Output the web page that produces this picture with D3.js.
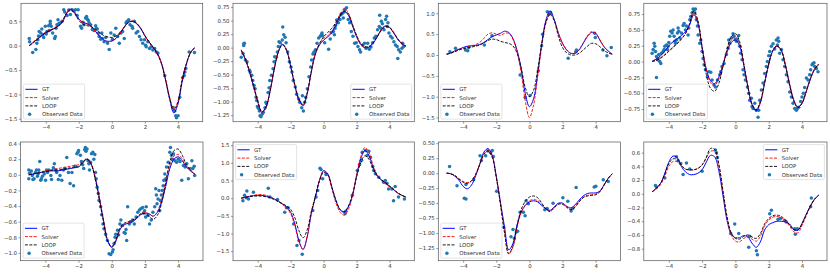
<!DOCTYPE html>
<html><head><meta charset="utf-8">
<script src="https://cdn.jsdelivr.net/npm/d3@7"></script>
<style>body{margin:0;background:#fff}svg{display:block}text{font-family:"DejaVu Sans",sans-serif}</style>
</head><body><svg id="c" width="830" height="274"></svg>
<script>
const xGrid = [-5,-4.75,-4.5,-4.25,-4,-3.75,-3.5,-3.25,-3,-2.75,-2.5,-2.25,-2,-1.75,-1.5,-1.25,-1,-0.75,-0.5,-0.25,0,0.25,0.5,0.75,1,1.25,1.5,1.75,2,2.25,2.5,2.75,3,3.25,3.5,3.75,4,4.25,4.5,4.75,5];
const xTicks = [-4,-2,0,2,4];
const seriesNames = ["GT","Solver","LOOP","Observed Data"];

// Panel 1
const gt1 = [0.0,0.07,0.14,0.21,0.27,0.31,0.35,0.4,0.48,0.65,0.75,0.68,0.55,0.48,0.45,0.4,0.3,0.2,0.12,0.09,0.1,0.15,0.25,0.38,0.48,0.5,0.45,0.35,0.2,0.08,-0.03,-0.15,-0.35,-0.7,-1.1,-1.38,-1.2,-0.75,-0.4,-0.15,-0.05];
const solver1 = [0.01,0.08,0.15,0.22,0.28,0.32,0.36,0.41,0.5,0.67,0.76,0.69,0.55,0.47,0.44,0.39,0.29,0.19,0.11,0.08,0.09,0.15,0.26,0.39,0.49,0.51,0.46,0.35,0.2,0.07,-0.04,-0.16,-0.36,-0.68,-1.06,-1.3,-1.14,-0.7,-0.38,-0.16,-0.04];
const loop1 = [0.0,0.06,0.13,0.2,0.27,0.31,0.35,0.4,0.5,0.66,0.74,0.66,0.52,0.44,0.41,0.39,0.34,0.27,0.21,0.18,0.17,0.2,0.27,0.38,0.47,0.5,0.46,0.36,0.21,0.08,-0.04,-0.17,-0.37,-0.7,-1.08,-1.32,-1.16,-0.72,-0.38,-0.15,-0.04];
const obs1 = [[-5,0.15],[-4.98,0.08],[-4.79,-0.14],[-4.6,-0.08],[-4.54,0.05],[-4.48,0.12],[-4.44,0.2],[-4.4,0.29],[-4.3,0.26],[-4.24,0.34],[-4.18,0.22],[-4.13,0.17],[-4.03,0.4],[-3.97,0.24],[-3.93,0.29],[-3.83,0.41],[-3.79,0.31],[-3.73,0.5],[-3.73,0.45],[-3.67,0.4],[-3.58,0.26],[-3.46,0.15],[-3.42,0.19],[-3.38,0.36],[-3.32,0.43],[-3.26,0.53],[-3.22,0.45],[-3.12,0.47],[-3.01,0.5],[-2.91,0.74],[-2.85,0.69],[-2.71,0.62],[-2.61,0.73],[-2.51,0.64],[-2.4,0.74],[-2.3,0.71],[-2.2,0.74],[-2.1,0.62],[-2.04,0.74],[-1.89,0.4],[-1.83,0.36],[-1.75,0.48],[-1.69,0.43],[-1.59,0.57],[-1.53,0.6],[-1.49,0.55],[-1.43,0.52],[-1.38,0.47],[-1.28,0.43],[-1.18,0.33],[-1.08,0.31],[-0.98,0.41],[-0.94,0.36],[-0.88,0.34],[-0.81,0.26],[-0.77,0.19],[-0.67,0.13],[-0.61,0.26],[-0.57,0.15],[-0.47,0.08],[-0.37,0.17],[-0.26,0.05],[-0.16,-0.08],[-0.06,0.26],[0.04,0.13],[0.14,0.22],[0.24,0.36],[0.35,0.19],[0.45,0.05],[0.55,0.26],[0.65,0.29],[0.75,0.15],[0.86,0.47],[0.92,0.5],[1.02,0.53],[1.1,0.43],[1.22,0.4],[1.26,0.36],[1.36,0.5],[1.47,0.26],[1.57,0.29],[1.67,0.19],[1.77,0.12],[1.87,0.05],[1.98,0.12],[2.04,0.01],[2.08,-0.02],[2.18,0.08],[2.28,-0.06],[2.38,-0.02],[2.48,-0.09],[2.59,-0.06],[2.69,-0.13],[2.79,-0.15],[3.2,-0.61],[3.71,-1.27],[3.81,-1.34],[3.87,-1.44],[3.91,-1.48],[4.01,-1.44],[4.11,-1.06],[4.28,-0.66],[4.38,-0.61],[4.42,-0.54],[4.48,-0.47],[4.68,-0.13],[5,-0.14]];

// Panel 2
const gt2 = [-0.06,-0.22,-0.45,-0.72,-1.0,-1.2,-1.1,-0.8,-0.4,-0.08,0.06,-0.05,-0.35,-0.7,-0.97,-1.07,-0.85,-0.45,-0.12,0.05,0.14,0.2,0.28,0.42,0.58,0.67,0.6,0.4,0.2,0.06,0.0,0.01,0.08,0.2,0.33,0.4,0.37,0.27,0.15,0.07,0.02];
const solver2 = [-0.05,-0.21,-0.44,-0.72,-1.0,-1.21,-1.12,-0.81,-0.4,-0.07,0.07,-0.04,-0.34,-0.7,-0.98,-1.08,-0.86,-0.45,-0.11,0.07,0.17,0.22,0.3,0.45,0.62,0.72,0.64,0.42,0.21,0.06,0.0,0.02,0.09,0.21,0.34,0.41,0.38,0.28,0.16,0.07,0.02];
const loop2 = [-0.04,-0.2,-0.43,-0.7,-0.98,-1.18,-1.1,-0.8,-0.4,-0.08,0.05,-0.05,-0.34,-0.68,-0.95,-1.05,-0.84,-0.44,-0.1,0.08,0.2,0.28,0.36,0.47,0.6,0.68,0.62,0.43,0.23,0.08,0.02,0.02,0.09,0.2,0.32,0.39,0.37,0.28,0.16,0.08,0.03];
const obs2 = [[-5,-0.18],[-4.89,-0.11],[-4.85,0.04],[-4.85,0.07],[-4.81,0.08],[-4.75,-0.23],[-4.65,-0.26],[-4.5,-0.42],[-4.46,-0.45],[-4.36,-0.51],[-4.3,-0.61],[-4.22,-0.7],[-4.16,-0.76],[-4.1,-0.92],[-4.06,-0.98],[-4.02,-1.09],[-3.96,-1.12],[-3.9,-1.17],[-3.86,-1.26],[-3.8,-1.28],[-3.74,-1.23],[-3.66,-1.2],[-3.56,-1.11],[-3.5,-1.01],[-3.47,-1.04],[-3.37,-0.83],[-3.31,-0.74],[-3.27,-0.61],[-3.17,-0.51],[-3.07,-0.39],[-3.01,-0.26],[-2.97,-0.17],[-2.87,-0.18],[-2.81,-0.08],[-2.75,0.02],[-2.71,0.11],[-2.63,0.09],[-2.51,0.14],[-2.48,0.38],[-2.42,0.24],[-2.34,0.19],[-2.28,0.09],[-2.18,-0.08],[-2.08,-0.26],[-1.98,-0.36],[-1.92,-0.45],[-1.84,-0.61],[-1.72,-0.73],[-1.64,-0.86],[-1.52,-0.95],[-1.45,-1.01],[-1.33,-1.11],[-1.29,-0.89],[-1.23,-1.17],[-1.15,-1.01],[-1.09,-0.92],[-0.99,-0.76],[-0.89,-0.54],[-0.79,-0.36],[-0.73,-0.23],[-0.65,-0.12],[-0.59,-0.08],[-0.5,-0.04],[-0.4,0.08],[-0.3,0.18],[-0.2,0.21],[-0.14,0.24],[-0.1,0.27],[-0.06,0.22],[0.06,0.09],[0.3,-0.03],[0.4,0.16],[0.46,0.28],[0.59,0.3],[0.65,0.24],[0.69,0.36],[0.73,0.41],[0.79,0.51],[0.89,0.46],[0.99,0.52],[1.05,0.61],[1.13,0.63],[1.19,0.55],[1.25,0.66],[1.29,0.71],[1.39,0.74],[1.49,0.52],[1.58,0.46],[1.68,0.3],[1.78,0.21],[1.88,0.08],[1.98,0.09],[2.08,0.02],[2.18,-0.04],[2.24,-0.08],[2.38,0.05],[2.48,0.08],[2.57,-0.01],[2.67,0.08],[2.77,-0.03],[2.87,0.01],[2.97,0.09],[3.07,0.18],[3.17,0.21],[3.27,0.33],[3.37,0.39],[3.4,0.6],[3.47,0.36],[3.5,0.49],[3.56,0.44],[3.66,0.33],[3.76,0.52],[3.82,0.58],[3.86,0.39],[3.9,0.46],[3.96,0.27],[4.06,0.21],[4.16,0.18],[4.26,0.11],[4.36,0.05],[4.46,0.02],[4.5,-0.2],[4.55,-0.04],[4.65,-0.08],[4.75,-0.01],[4.79,0.08],[4.85,0.02]];

// Panel 3
const gt3 = [0.02,0.05,0.1,0.14,0.18,0.21,0.22,0.23,0.25,0.3,0.37,0.44,0.48,0.52,0.57,0.54,0.4,0.12,-0.32,-0.92,-1.24,-1.05,-0.45,0.28,0.84,1.06,0.85,0.52,0.28,0.12,0.04,0.04,0.12,0.28,0.44,0.54,0.52,0.36,0.2,0.1,0.02];
const solver3 = [0.02,0.05,0.09,0.13,0.17,0.2,0.22,0.25,0.3,0.4,0.5,0.53,0.5,0.47,0.52,0.52,0.38,0.08,-0.42,-1.1,-1.5,-1.2,-0.52,0.22,0.78,1.0,0.84,0.53,0.28,0.12,0.04,0.05,0.13,0.29,0.46,0.56,0.52,0.37,0.2,0.09,0.02];
const loop3 = [0.02,0.04,0.08,0.12,0.15,0.17,0.19,0.21,0.24,0.29,0.35,0.38,0.37,0.33,0.3,0.28,0.22,0.05,-0.3,-0.78,-1.0,-0.85,-0.35,0.28,0.78,0.98,0.82,0.45,0.18,0.05,0.0,0.0,0.04,0.12,0.21,0.28,0.27,0.2,0.11,0.05,0.02];
const obs3 = [[-4.8,0.08],[-4.46,0.16],[-3.86,0.12],[-3.72,0.1],[-3.66,0.18],[-2.72,0.24],[-2.26,0.46],[-0.56,-0.48],[-0.26,-1.02],[0.04,-0.97],[0.54,-0.38],[0.74,0.22],[0.8,0.5],[1.08,1.04],[1.2,0.98],[1.28,1.02],[2.34,-0.08],[2.8,0.08],[2.84,0.12],[3.94,0.52],[3.98,0.42],[4.44,0.12],[4.68,-0.02],[4.94,0.18]];

// Panel 4
const gt4 = [0.01,0.04,0.09,0.16,0.25,0.31,0.36,0.41,0.47,0.58,0.74,0.6,0.22,-0.12,-0.3,-0.35,-0.25,-0.05,0.15,0.3,0.34,0.25,-0.05,-0.4,-0.68,-0.78,-0.65,-0.35,-0.05,0.17,0.24,0.18,-0.05,-0.35,-0.6,-0.72,-0.66,-0.48,-0.28,-0.13,-0.05];
const solver4 = [0.0,0.02,0.06,0.11,0.17,0.23,0.29,0.36,0.44,0.58,0.76,0.62,0.24,-0.12,-0.33,-0.38,-0.27,-0.05,0.17,0.33,0.39,0.28,-0.04,-0.4,-0.68,-0.76,-0.64,-0.34,-0.04,0.17,0.24,0.18,-0.05,-0.36,-0.61,-0.72,-0.65,-0.47,-0.27,-0.12,-0.04];
const loop4 = [0.0,0.02,0.05,0.1,0.16,0.22,0.28,0.35,0.44,0.6,0.8,0.65,0.22,-0.2,-0.42,-0.47,-0.35,-0.08,0.2,0.39,0.44,0.32,-0.03,-0.4,-0.68,-0.76,-0.63,-0.33,-0.03,0.18,0.25,0.18,-0.06,-0.37,-0.62,-0.73,-0.66,-0.47,-0.27,-0.12,-0.04];
const obs4 = [[-5,0.13],[-4.94,0.19],[-4.88,0.29],[-4.84,0.24],[-4.8,0.16],[-4.74,0.08],[-4.68,0.03],[-4.64,0.05],[-4.74,-0.25],[-4.6,0.11],[-4.54,0.0],[-4.48,-0.03],[-4.44,0.13],[-4.34,0.16],[-4.28,0.19],[-4.24,0.24],[-4.14,0.26],[-4.08,0.19],[-4.04,0.24],[-4.0,0.3],[-3.94,0.4],[-3.88,0.48],[-3.8,0.45],[-3.74,0.5],[-3.68,0.4],[-3.64,0.32],[-3.6,0.29],[-3.54,0.34],[-3.48,0.45],[-3.44,0.53],[-3.4,0.48],[-3.34,0.37],[-3.24,0.45],[-3.14,0.57],[-3.08,0.6],[-3.0,0.5],[-2.94,0.56],[-2.84,0.42],[-2.8,0.53],[-2.74,0.66],[-2.68,0.71],[-2.6,0.77],[-2.54,0.83],[-2.48,0.82],[-2.44,0.77],[-2.4,0.83],[-2.34,0.66],[-2.28,0.56],[-2.24,0.42],[-2.14,0.29],[-2.08,0.34],[-2.0,0.16],[-1.94,0.05],[-1.88,-0.05],[-1.8,-0.13],[-1.68,-0.24],[-1.6,-0.16],[-1.48,-0.17],[-1.4,-0.29],[-1.28,-0.37],[-1.2,-0.4],[-1.08,-0.29],[-0.94,-0.21],[-0.88,-0.16],[-0.8,-0.08],[-0.68,-0.03],[-0.54,0.11],[-0.44,0.21],[-0.4,0.34],[-0.34,0.29],[-0.24,0.37],[-0.14,0.44],[-0.08,0.4],[0.0,0.35],[0.06,0.32],[0.12,0.34],[0.2,0.41],[0.26,0.24],[0.32,0.13],[0.4,0.03],[0.46,-0.13],[0.52,-0.21],[0.6,-0.29],[0.72,-0.4],[0.8,-0.5],[0.86,-0.61],[0.96,-0.58],[1.0,-0.71],[1.06,-0.74],[1.16,-0.66],[1.26,-0.77],[1.36,-0.88],[1.4,-0.77],[1.46,-0.61],[1.56,-0.45],[1.66,-0.34],[1.76,-0.19],[1.86,-0.08],[1.92,0.0],[2.0,0.09],[2.06,0.16],[2.16,0.24],[2.26,0.28],[2.36,0.2],[2.46,0.34],[2.52,0.26],[2.56,0.37],[2.6,0.32],[2.66,0.13],[2.76,0.19],[2.86,0.03],[2.96,-0.08],[3.06,-0.21],[3.16,-0.32],[3.26,-0.48],[3.36,-0.56],[3.46,-0.66],[3.56,-0.74],[3.66,-0.77],[3.72,-0.74],[3.8,-0.72],[3.92,-0.63],[4.0,-0.56],[4.08,-0.5],[4.16,-0.41],[4.26,-0.26],[4.36,-0.29],[4.46,-0.21],[4.52,-0.13],[4.6,-0.05],[4.66,-0.03],[4.72,-0.02],[4.76,-0.08],[4.86,-0.11],[4.96,-0.16]];

// Panel 5
const gt5 = [0.0,0.01,0.02,0.03,0.04,0.05,0.05,0.05,0.06,0.07,0.08,0.09,0.1,0.15,0.2,0.14,-0.03,-0.29,-0.58,-0.84,-0.93,-0.85,-0.7,-0.64,-0.62,-0.6,-0.56,-0.51,-0.49,-0.5,-0.53,-0.48,-0.35,-0.15,0.08,0.2,0.23,0.18,0.1,0.05,0.01];
const solver5 = [0.0,0.01,0.03,0.04,0.05,0.06,0.07,0.08,0.09,0.1,0.11,0.12,0.13,0.17,0.21,0.15,-0.04,-0.3,-0.58,-0.84,-0.92,-0.84,-0.7,-0.63,-0.61,-0.59,-0.55,-0.5,-0.48,-0.5,-0.53,-0.47,-0.32,-0.1,0.12,0.24,0.26,0.2,0.11,0.05,0.01];
const loop5 = [0.0,0.01,0.02,0.03,0.04,0.05,0.06,0.06,0.07,0.08,0.09,0.1,0.11,0.16,0.2,0.14,-0.05,-0.32,-0.6,-0.85,-0.92,-0.83,-0.68,-0.62,-0.6,-0.58,-0.55,-0.5,-0.5,-0.53,-0.57,-0.52,-0.37,-0.1,0.16,0.31,0.33,0.25,0.13,0.06,0.01];
const obs5 = [[-5,0.06],[-5,-0.05],[-4.95,0.02],[-4.85,0.05],[-4.79,-0.01],[-4.75,-0.06],[-4.68,-0.05],[-4.6,0.03],[-4.54,0.06],[-4.48,-0.02],[-4.44,0.01],[-4.4,0.06],[-4.34,0.17],[-4.28,-0.07],[-4.24,-0.05],[-4.18,-0.02],[-4.07,0.01],[-3.99,-0.07],[-3.93,0.06],[-3.87,0.03],[-3.79,0.06],[-3.67,-0.01],[-3.63,-0.06],[-3.52,0.09],[-3.46,0.14],[-3.38,0.06],[-3.32,0.03],[-3.22,-0.06],[-3.12,-0.01],[-3.01,-0.07],[-2.91,0.06],[-2.81,0.08],[-2.71,0.22],[-2.61,0.03],[-2.51,-0.11],[-2.4,0.03],[-2.3,-0.14],[-2.2,0.11],[-2.1,0.27],[-2.04,0.29],[-2.0,0.31],[-1.89,0.25],[-1.83,0.17],[-1.75,0.13],[-1.69,0.08],[-1.63,0.32],[-1.59,0.35],[-1.55,0.3],[-1.49,0.33],[-1.43,0.18],[-1.38,0.14],[-1.34,0.06],[-1.28,0.16],[-1.22,0.27],[-1.14,0.29],[-1.08,0.2],[-1.02,0.26],[-0.98,0.03],[-0.94,-0.05],[-0.88,-0.16],[-0.81,-0.24],[-0.77,-0.33],[-0.67,-0.41],[-0.61,-0.51],[-0.53,-0.63],[-0.47,-0.69],[-0.37,-0.76],[-0.26,-0.84],[-0.16,-1.01],[-0.06,-1.02],[0.04,-0.99],[0.08,-0.96],[0.14,-0.88],[0.2,-0.8],[0.24,-0.76],[0.35,-0.71],[0.41,-0.77],[0.49,-0.63],[0.55,-0.58],[0.65,-0.65],[0.75,-0.74],[0.81,-0.75],[0.86,-0.7],[0.9,-0.84],[0.96,-0.41],[1.06,-0.63],[1.16,-0.6],[1.26,-0.58],[1.36,-0.63],[1.47,-0.54],[1.57,-0.48],[1.67,-0.45],[1.77,-0.43],[1.87,-0.42],[1.91,-0.49],[1.98,-0.46],[2.04,-0.54],[2.08,-0.41],[2.18,-0.52],[2.28,-0.63],[2.38,-0.58],[2.48,-0.48],[2.59,-0.41],[2.65,-0.18],[2.69,-0.26],[2.73,-0.37],[2.79,-0.31],[2.85,-0.2],[2.89,-0.46],[2.93,-0.33],[2.99,-0.26],[3.05,-0.2],[3.1,-0.14],[3.14,-0.07],[3.2,0.01],[3.26,-0.05],[3.3,0.1],[3.4,0.16],[3.5,0.29],[3.54,0.35],[3.6,0.25],[3.67,0.2],[3.71,0.27],[3.81,0.18],[3.91,0.16],[4.01,0.2],[4.11,0.17],[4.22,-0.07],[4.32,0.12],[4.42,0.1],[4.52,0.14],[4.62,-0.05],[4.73,0.08],[4.83,0.18],[4.89,0.08],[4.97,0.11],[5,-0.01]];

// Panel 6
const gt6 = [0.0,0.03,0.05,0.07,0.08,0.08,0.06,0.03,-0.02,-0.08,-0.16,-0.25,-0.4,-0.73,-1.2,-1.45,-1.1,-0.44,0.03,0.5,0.78,0.69,0.31,-0.07,-0.33,-0.4,-0.25,0.08,0.64,1.11,1.35,1.21,0.88,0.64,0.52,0.43,0.33,0.24,0.14,0.08,0.03];
const solver6 = [0.0,0.03,0.06,0.08,0.1,0.1,0.08,0.04,-0.02,-0.09,-0.18,-0.28,-0.44,-0.78,-1.24,-1.45,-1.08,-0.42,0.06,0.52,0.76,0.66,0.26,-0.14,-0.4,-0.48,-0.32,0.06,0.66,1.18,1.43,1.3,0.92,0.64,0.5,0.41,0.32,0.23,0.14,0.08,0.03];
const loop6 = [0.0,0.02,0.04,0.06,0.06,0.06,0.04,0.01,-0.04,-0.1,-0.16,-0.22,-0.32,-0.55,-0.92,-1.12,-0.9,-0.38,0.05,0.5,0.73,0.66,0.3,-0.07,-0.32,-0.38,-0.22,0.1,0.6,1.0,1.2,1.1,0.83,0.63,0.52,0.44,0.35,0.25,0.15,0.08,0.03];
const obs6 = [[-4.9,-0.07],[-4.8,0.08],[-4.7,0.01],[-4.66,0.2],[-4.56,-0.02],[-4.26,0.17],[-3.36,0.28],[-3.26,0.03],[-2.8,-0.04],[-2.36,-0.4],[-2.26,-0.27],[-2.16,-0.27],[-1.82,-0.73],[-1.62,-1.34],[-1.5,-1.2],[-1.3,-1.59],[-0.66,-0.35],[-0.46,0.03],[-0.36,0.22],[-0.22,0.85],[-0.16,0.81],[-0.06,0.55],[0.14,0.67],[1.3,-0.44],[1.34,-0.37],[1.74,0.08],[2.04,0.78],[2.18,0.95],[2.3,1.07],[2.34,1.3],[2.54,1.35],[2.64,1.21],[2.74,1.33],[2.84,1.16],[2.98,0.9],[3.04,0.78],[3.14,0.69],[3.34,0.59],[3.64,0.45],[3.74,0.5],[3.84,0.42],[3.94,0.26],[4.14,0.26],[4.24,-0.07],[4.34,0.33],[4.54,0.03],[4.9,-0.02]];

// Panel 7
const gt7 = [0.0,-0.01,-0.05,-0.12,-0.22,-0.26,-0.2,-0.05,0.15,0.35,0.41,0.3,-0.05,-0.48,-0.9,-1.28,-1.18,-0.87,-0.65,-0.54,-0.48,-0.46,-0.48,-0.54,-0.59,-0.62,-0.56,-0.5,-0.5,-0.55,-0.58,-0.53,-0.45,-0.38,-0.34,-0.33,-0.33,-0.3,-0.2,-0.09,-0.01];
const solver7 = [0.0,-0.01,-0.04,-0.09,-0.14,-0.16,-0.13,-0.02,0.15,0.32,0.38,0.28,-0.06,-0.5,-0.98,-1.35,-1.24,-0.92,-0.66,-0.53,-0.46,-0.44,-0.46,-0.52,-0.6,-0.63,-0.57,-0.51,-0.51,-0.56,-0.6,-0.56,-0.47,-0.4,-0.37,-0.36,-0.35,-0.31,-0.2,-0.09,-0.01];
const loop7 = [0.0,-0.01,-0.04,-0.1,-0.15,-0.17,-0.13,-0.02,0.14,0.31,0.37,0.27,-0.07,-0.52,-1.0,-1.34,-1.22,-0.88,-0.61,-0.47,-0.4,-0.38,-0.41,-0.5,-0.6,-0.64,-0.58,-0.52,-0.52,-0.57,-0.61,-0.57,-0.48,-0.41,-0.38,-0.37,-0.36,-0.31,-0.2,-0.09,-0.01];
const obs7 = [[-4.82,0.11],[-4.37,-0.21],[-3.93,-0.42],[-3.83,-0.43],[-3.83,-0.19],[-3.37,-0.11],[-2.98,0.29],[-2.9,0.21],[-2.64,0.29],[-2.5,0.37],[-2.34,0.34],[-2.24,0.38],[-2.18,0.28],[-1.98,-0.3],[-1.55,-0.9],[-1.11,-1.06],[-0.99,-0.94],[-0.91,-1.09],[-0.79,-0.98],[-0.71,-0.97],[-0.56,-0.65],[-0.36,-0.65],[-0.26,-0.71],[-0.2,-0.46],[-0.06,-0.51],[0.93,-0.61],[1.07,-0.59],[1.43,-0.5],[2.02,-0.41],[2.32,-0.47],[2.52,-0.63],[2.62,-0.59],[2.82,-0.24],[3.91,-0.23],[4.01,-0.22],[4.46,-0.11],[4.76,-0.14]];

// Panel 8
const gt8 = [0.03,0.08,0.15,0.29,0.46,0.55,0.53,0.4,0.32,0.28,0.28,0.3,0.35,0.46,0.56,0.54,0.34,-0.02,-0.39,-0.59,-0.64,-0.64,-0.61,-0.63,-0.72,-0.78,-0.7,-0.53,-0.45,-0.42,-0.4,-0.4,-0.41,-0.44,-0.52,-0.53,-0.43,-0.3,-0.18,-0.08,-0.02];
const solver8 = [0.03,0.07,0.13,0.25,0.4,0.47,0.47,0.41,0.36,0.35,0.35,0.37,0.42,0.52,0.62,0.62,0.42,0.04,-0.36,-0.6,-0.69,-0.7,-0.65,-0.63,-0.66,-0.69,-0.62,-0.47,-0.38,-0.34,-0.33,-0.35,-0.4,-0.47,-0.55,-0.57,-0.46,-0.32,-0.18,-0.08,-0.02];
const loop8 = [0.03,0.08,0.15,0.28,0.44,0.51,0.5,0.42,0.36,0.35,0.35,0.37,0.42,0.53,0.66,0.65,0.44,0.05,-0.33,-0.57,-0.65,-0.66,-0.62,-0.6,-0.63,-0.65,-0.58,-0.44,-0.36,-0.32,-0.31,-0.33,-0.38,-0.45,-0.52,-0.53,-0.44,-0.31,-0.18,-0.08,-0.02];
const obs8 = [[-4.8,0.12],[-4.74,0.1],[-4.24,0.23],[-3.54,0.54],[-3.44,0.48],[-3.28,0.44],[-3.14,0.28],[-2.94,0.45],[-2.74,0.36],[-2.0,0.33],[-1.2,0.64],[-1.14,0.6],[-1.08,0.53],[-0.28,-0.58],[-0.04,-0.44],[0.2,-0.58],[0.8,-0.78],[0.86,-0.62],[1.26,-0.83],[1.32,-0.89],[2.06,-0.29],[2.16,-0.24],[2.56,-0.37],[2.7,-0.36],[2.96,-0.39],[3.06,-0.41],[3.56,-0.51],[3.6,-0.59],[3.72,-0.51],[4.52,-0.19],[4.56,-0.06]];

// y tick values per panel
const yTicks1 = [-1.5,-1.0,-0.5,0.0,0.5];
const yTicks2 = [-1.25,-1.0,-0.75,-0.5,-0.25,0.0,0.25,0.5,0.75];
const yTicks3 = [-1.5,-1.0,-0.5,0.0,0.5,1.0];
const yTicks4 = [-0.75,-0.5,-0.25,0.0,0.25,0.5,0.75];
const yTicks5 = [-1.0,-0.8,-0.6,-0.4,-0.2,0.0,0.2,0.4];
const yTicks6 = [-1.5,-1.0,-0.5,0.0,0.5,1.0,1.5];
const yTicks7 = [-1.25,-1.0,-0.75,-0.5,-0.25,0.0,0.25,0.5];
const yTicks8 = [-0.8,-0.6,-0.4,-0.2,0.0,0.2,0.4,0.6];

const panels = [
 {gt:gt1,sol:solver1,lp:loop1,obs:obs1,yt:yTicks1,fmt:".1f",yd:[-1.56,0.87],x0:21,x1:202.7,y0:3.3,y1:121.7,leg:"ll"},
 {gt:gt2,sol:solver2,lp:loop2,obs:obs2,yt:yTicks2,fmt:".2f",yd:[-1.37,0.82],x0:233,x1:414.3,y0:3.3,y1:121.7,leg:"lr"},
 {gt:gt3,sol:solver3,lp:loop3,obs:obs3,yt:yTicks3,fmt:".1f",yd:[-1.6,1.24],x0:438.3,x1:620.5,y0:3.3,y1:121.7,leg:"ll"},
 {gt:gt4,sol:solver4,lp:loop4,obs:obs4,yt:yTicks4,fmt:".2f",yd:[-0.95,0.92],x0:643.8,x1:827,y0:3.3,y1:121.7,leg:"ll"},
 {gt:gt5,sol:solver5,lp:loop5,obs:obs5,yt:yTicks5,fmt:".1f",yd:[-1.1,0.42],x0:20.5,x1:203,y0:142,y1:260.7,leg:"ll"},
 {gt:gt6,sol:solver6,lp:loop6,obs:obs6,yt:yTicks6,fmt:".1f",yd:[-1.77,1.59],x0:233,x1:414.3,y0:142,y1:260.7,leg:"ul"},
 {gt:gt7,sol:solver7,lp:loop7,obs:obs7,yt:yTicks7,fmt:".2f",yd:[-1.46,0.52],x0:438.3,x1:620.5,y0:142,y1:260.7,leg:"ll"},
 {gt:gt8,sol:solver8,lp:loop8,obs:obs8,yt:yTicks8,fmt:".1f",yd:[-0.975,0.755],x0:643.8,x1:827,y0:142,y1:260.7,leg:"ur"}
];

const svg = d3.select("#c");
const FS = 5.4, INK = "#333", EDGE = "#555";
const minus = s => s.replace("-", "\u2212");

panels.forEach((p, pi) => {
  const x = d3.scaleLinear().domain([-5.5, 5.5]).range([p.x0, p.x1]);
  const y = d3.scaleLinear().domain(p.yd).range([p.y1, p.y0]);
  const g = svg.append("g");
  const clipId = "clip" + pi;
  g.append("clipPath").attr("id", clipId).append("rect")
    .attr("x", p.x0).attr("y", p.y0).attr("width", p.x1 - p.x0).attr("height", p.y1 - p.y0);
  const plot = g.append("g").attr("clip-path", `url(#${clipId})`);

  // scatter (drawn below lines)
  plot.selectAll("circle.obs").data(p.obs).join("circle").attr("class","obs")
    .attr("cx", d => x(d[0])).attr("cy", d => y(d[1])).attr("r", 1.75).attr("fill", "#1f77b4");

  const line = d3.line().x((d, i) => x(xGrid[i])).y(d => y(d)).curve(d3.curveCatmullRom.alpha(0.5));
  plot.append("path").attr("d", line(p.gt)).attr("fill","none").attr("stroke","#0000ff").attr("stroke-width",1.0);
  plot.append("path").attr("d", line(p.sol)).attr("fill","none").attr("stroke","#ff0000").attr("stroke-width",0.9).attr("stroke-dasharray","3,1.4");
  plot.append("path").attr("d", line(p.lp)).attr("fill","none").attr("stroke","#000").attr("stroke-width",0.9).attr("stroke-dasharray","3,1.4");

  // axes
  const xa = d3.axisBottom(x).tickValues(xTicks).tickSize(2).tickPadding(1.5).tickFormat(d => minus(d3.format("d")(d)));
  const ya = d3.axisLeft(y).tickValues(p.yt).tickSize(2).tickPadding(1.5).tickFormat(d => minus(d3.format(p.fmt)(d)));
  const gx = g.append("g").attr("transform", `translate(0,${p.y1})`).call(xa);
  const gy = g.append("g").attr("transform", `translate(${p.x0},0)`).call(ya);
  [gx, gy].forEach(a => {
    a.select(".domain").remove();
    a.selectAll("line").attr("stroke", EDGE).attr("stroke-width", 0.6);
    a.selectAll("text").attr("fill", INK).style("font-size", FS + "px").style("font-family", '"DejaVu Sans", sans-serif');
  });
  g.append("rect").attr("x", p.x0).attr("y", p.y0).attr("width", p.x1 - p.x0).attr("height", p.y1 - p.y0)
    .attr("fill", "none").attr("stroke", EDGE).attr("stroke-width", 0.7);

  // legend
  const LW = 61, LH = 35, PAD = 2.6;
  const lx = p.leg[1] === "l" ? p.x0 + PAD : p.x1 - PAD - LW;
  const ly = p.leg[0] === "l" ? p.y1 - PAD - LH : p.y0 + PAD;
  const lg = g.append("g").attr("transform", `translate(${lx},${ly})`);
  lg.append("rect").attr("width", LW).attr("height", LH).attr("rx", 1.2)
    .attr("fill", "#fff").attr("fill-opacity", 0.8).attr("stroke", "#d0d0d0").attr("stroke-width", 0.6);
  const styles = [
    {c:"#0000ff", dash:null}, {c:"#ff0000", dash:"3,1.4"}, {c:"#000", dash:"3,1.4"}, null
  ];
  seriesNames.forEach((name, i) => {
    const cy = 5.2 + i * 8.3;
    if (styles[i]) {
      const l = lg.append("line").attr("x1", 1.8).attr("x2", 14).attr("y1", cy).attr("y2", cy)
        .attr("stroke", styles[i].c).attr("stroke-width", i === 0 ? 1.0 : 0.9);
      if (styles[i].dash) l.attr("stroke-dasharray", styles[i].dash);
    } else {
      lg.append("circle").attr("cx", 6).attr("cy", cy).attr("r", 1.75).attr("fill", "#1f77b4");
    }
    lg.append("text").attr("x", 18.4).attr("y", cy).attr("dy", "0.36em")
      .attr("fill", INK).style("font-size", FS + "px").text(name);
  });
});
</script></body></html>
